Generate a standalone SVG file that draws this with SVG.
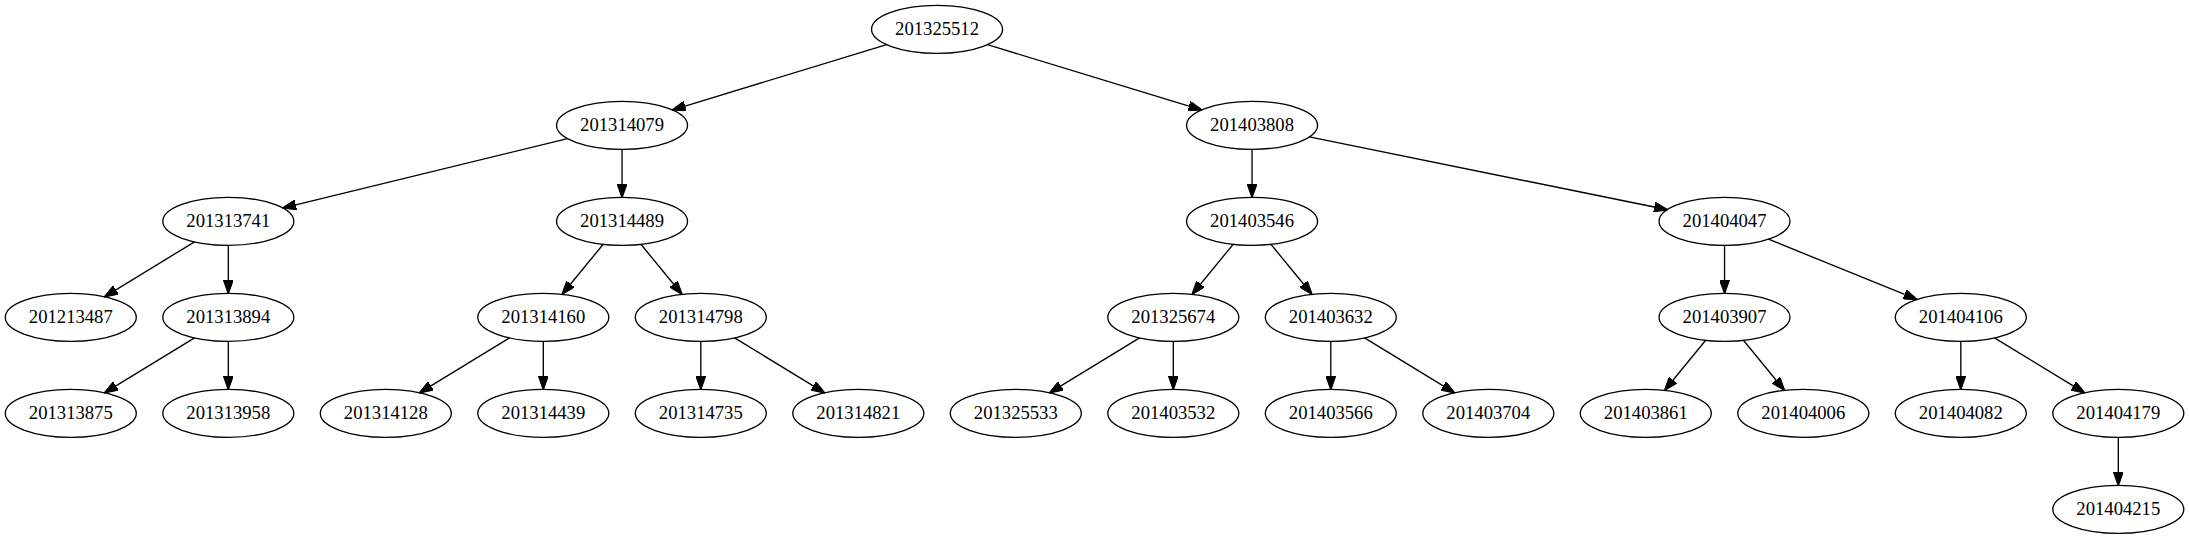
<svg xmlns="http://www.w3.org/2000/svg" width="2189" height="539" viewBox="0 0 2189 539">
<style>
.n ellipse{fill:none;stroke:#000;stroke-width:1.33}
.n text{font-family:"Liberation Serif","Times New Roman",serif;font-size:18.67px;text-anchor:middle;fill:#000}
.e path{fill:none;stroke:#000;stroke-width:1.33;marker-end:url(#ah)}
</style>
<defs>
<marker id="ah" markerUnits="userSpaceOnUse" markerWidth="14" markerHeight="10" viewBox="0 0 13.3 9.4" refX="0" refY="4.7" orient="auto">
<path d="M0,0 L13.3,4.7 L0,9.4 z" fill="#000" stroke="#000" stroke-width="1"/>
</marker>
</defs>
<rect width="2189" height="539" fill="#fff"/>
<g id="edges" class="e">
<path d="M886.69,44.65 L685.13,106.07"/>
<path d="M987.41,44.65 L1188.97,106.07"/>
<path d="M567.52,138.59 L295.75,204.86"/>
<path d="M622.05,149.3 L622.05,184"/>
<path d="M1252.05,149.3 L1252.05,184"/>
<path d="M1309.33,136.94 L1654.24,207.01"/>
<path d="M194.55,241.87 L115.91,289.81"/>
<path d="M228.3,245.3 L228.3,280"/>
<path d="M603.2,244.28 L570.59,284.04"/>
<path d="M640.9,244.28 L673.51,284.04"/>
<path d="M1233.2,244.28 L1200.59,284.04"/>
<path d="M1270.9,244.28 L1303.51,284.04"/>
<path d="M1724.55,245.3 L1724.55,280"/>
<path d="M1768.41,239.12 L1904.62,294.47"/>
<path d="M194.55,337.87 L115.91,385.81"/>
<path d="M228.3,341.3 L228.3,376"/>
<path d="M509.55,337.87 L430.91,385.81"/>
<path d="M543.3,341.3 L543.3,376"/>
<path d="M700.8,341.3 L700.8,376"/>
<path d="M734.55,337.87 L813.19,385.81"/>
<path d="M1139.55,337.87 L1060.91,385.81"/>
<path d="M1173.3,341.3 L1173.3,376"/>
<path d="M1330.8,341.3 L1330.8,376"/>
<path d="M1364.55,337.87 L1443.19,385.81"/>
<path d="M1705.7,340.28 L1673.09,380.04"/>
<path d="M1743.4,340.28 L1776.01,380.04"/>
<path d="M1960.8,341.3 L1960.8,376"/>
<path d="M1994.55,337.87 L2073.19,385.81"/>
<path d="M2118.3,437.3 L2118.3,472"/>
</g>
<g id="n201325512" class="n"><ellipse cx="937.05" cy="29.3" rx="65.5" ry="24"/><text x="937.05" y="34.9">201325512</text></g>
<g id="n201314079" class="n"><ellipse cx="622.05" cy="125.3" rx="65.5" ry="24"/><text x="622.05" y="130.9">201314079</text></g>
<g id="n201403808" class="n"><ellipse cx="1252.05" cy="125.3" rx="65.5" ry="24"/><text x="1252.05" y="130.9">201403808</text></g>
<g id="n201313741" class="n"><ellipse cx="228.3" cy="221.3" rx="65.5" ry="24"/><text x="228.3" y="226.9">201313741</text></g>
<g id="n201314489" class="n"><ellipse cx="622.05" cy="221.3" rx="65.5" ry="24"/><text x="622.05" y="226.9">201314489</text></g>
<g id="n201403546" class="n"><ellipse cx="1252.05" cy="221.3" rx="65.5" ry="24"/><text x="1252.05" y="226.9">201403546</text></g>
<g id="n201404047" class="n"><ellipse cx="1724.55" cy="221.3" rx="65.5" ry="24"/><text x="1724.55" y="226.9">201404047</text></g>
<g id="n201213487" class="n"><ellipse cx="70.8" cy="317.3" rx="65.5" ry="24"/><text x="70.8" y="322.9">201213487</text></g>
<g id="n201313894" class="n"><ellipse cx="228.3" cy="317.3" rx="65.5" ry="24"/><text x="228.3" y="322.9">201313894</text></g>
<g id="n201314160" class="n"><ellipse cx="543.3" cy="317.3" rx="65.5" ry="24"/><text x="543.3" y="322.9">201314160</text></g>
<g id="n201314798" class="n"><ellipse cx="700.8" cy="317.3" rx="65.5" ry="24"/><text x="700.8" y="322.9">201314798</text></g>
<g id="n201325674" class="n"><ellipse cx="1173.3" cy="317.3" rx="65.5" ry="24"/><text x="1173.3" y="322.9">201325674</text></g>
<g id="n201403632" class="n"><ellipse cx="1330.8" cy="317.3" rx="65.5" ry="24"/><text x="1330.8" y="322.9">201403632</text></g>
<g id="n201403907" class="n"><ellipse cx="1724.55" cy="317.3" rx="65.5" ry="24"/><text x="1724.55" y="322.9">201403907</text></g>
<g id="n201404106" class="n"><ellipse cx="1960.8" cy="317.3" rx="65.5" ry="24"/><text x="1960.8" y="322.9">201404106</text></g>
<g id="n201313875" class="n"><ellipse cx="70.8" cy="413.3" rx="65.5" ry="24"/><text x="70.8" y="418.9">201313875</text></g>
<g id="n201313958" class="n"><ellipse cx="228.3" cy="413.3" rx="65.5" ry="24"/><text x="228.3" y="418.9">201313958</text></g>
<g id="n201314128" class="n"><ellipse cx="385.8" cy="413.3" rx="65.5" ry="24"/><text x="385.8" y="418.9">201314128</text></g>
<g id="n201314439" class="n"><ellipse cx="543.3" cy="413.3" rx="65.5" ry="24"/><text x="543.3" y="418.9">201314439</text></g>
<g id="n201314735" class="n"><ellipse cx="700.8" cy="413.3" rx="65.5" ry="24"/><text x="700.8" y="418.9">201314735</text></g>
<g id="n201314821" class="n"><ellipse cx="858.3" cy="413.3" rx="65.5" ry="24"/><text x="858.3" y="418.9">201314821</text></g>
<g id="n201325533" class="n"><ellipse cx="1015.8" cy="413.3" rx="65.5" ry="24"/><text x="1015.8" y="418.9">201325533</text></g>
<g id="n201403532" class="n"><ellipse cx="1173.3" cy="413.3" rx="65.5" ry="24"/><text x="1173.3" y="418.9">201403532</text></g>
<g id="n201403566" class="n"><ellipse cx="1330.8" cy="413.3" rx="65.5" ry="24"/><text x="1330.8" y="418.9">201403566</text></g>
<g id="n201403704" class="n"><ellipse cx="1488.3" cy="413.3" rx="65.5" ry="24"/><text x="1488.3" y="418.9">201403704</text></g>
<g id="n201403861" class="n"><ellipse cx="1645.8" cy="413.3" rx="65.5" ry="24"/><text x="1645.8" y="418.9">201403861</text></g>
<g id="n201404006" class="n"><ellipse cx="1803.3" cy="413.3" rx="65.5" ry="24"/><text x="1803.3" y="418.9">201404006</text></g>
<g id="n201404082" class="n"><ellipse cx="1960.8" cy="413.3" rx="65.5" ry="24"/><text x="1960.8" y="418.9">201404082</text></g>
<g id="n201404179" class="n"><ellipse cx="2118.3" cy="413.3" rx="65.5" ry="24"/><text x="2118.3" y="418.9">201404179</text></g>
<g id="n201404215" class="n"><ellipse cx="2118.3" cy="509.3" rx="65.5" ry="24"/><text x="2118.3" y="514.9">201404215</text></g>
</svg>
